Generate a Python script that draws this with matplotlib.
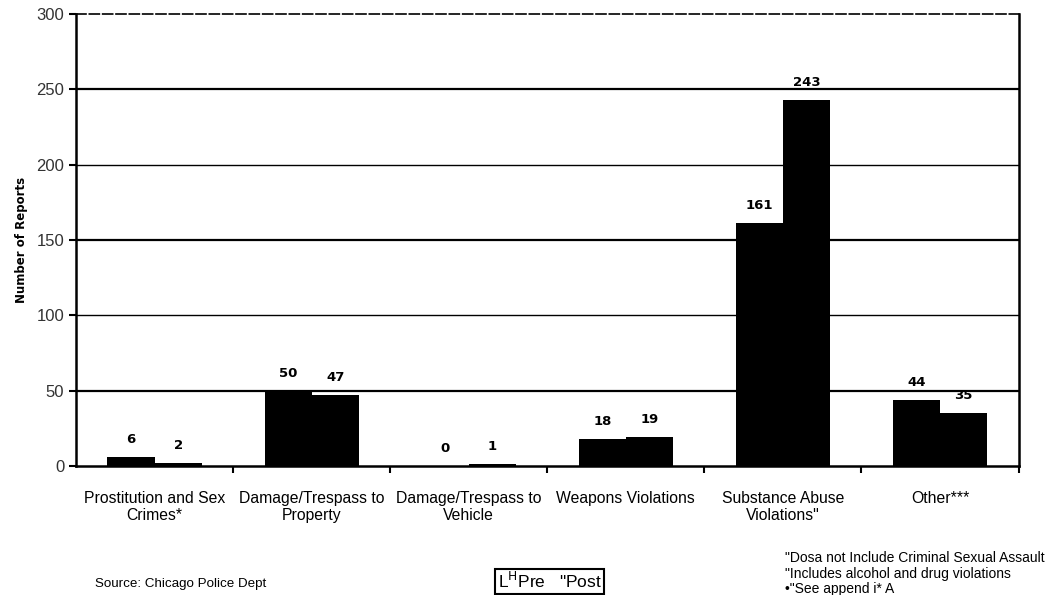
import numpy as np
import matplotlib.pyplot as plt

# data
categories = ["Prostitution and Sex\nCrimes*", "Damage/Trespass to\nProperty",
              "Damage/Trespass to\nVehicle", "Weapons Violations",
              "Substance Abuse\nViolations\"", "Other***"]
pre = [6, 50, 0, 18, 161, 44]
post = [2, 47, 1, 19, 243, 35]
pre_labels = ["6", "50", "0", "18", "161", "44"]
post_labels = ["2", "47", "1", "19", "243", "35"]

plt.rcParams["font.family"] = ["Liberation Sans", "DejaVu Sans"]

fig = plt.figure(figsize=(10.49, 5.95), dpi=100)
ax = fig.add_axes([0.0725, 0.2168, 0.8985, 0.7597])

x = np.arange(len(categories))
w = 0.30

# horizontal grid lines, as in the scan
for yv in [50, 100, 150, 200, 250]:
    ax.axhline(yv, color="black", lw=1.6 if yv not in (100, 200) else 1.0, zorder=1)

ax.bar(x - w / 2, pre, w, color="black", zorder=2)
ax.bar(x + w / 2, post, w, color="black", zorder=2)

for xi, v, t in zip(x - w / 2, pre, pre_labels):
    ax.annotate(t, (xi, v), xytext=(0, 8), textcoords="offset points",
                ha="center", va="bottom", fontsize=9.5, fontweight="bold",
                family="DejaVu Sans")
for xi, v, t in zip(x + w / 2, post, post_labels):
    ax.annotate(t, (xi, v), xytext=(0, 8), textcoords="offset points",
                ha="center", va="bottom", fontsize=9.5, fontweight="bold",
                family="DejaVu Sans")

ax.set_xlim(-0.5, len(categories) - 0.5)
ax.set_ylim(0, 300)
ax.set_yticks([0, 50, 100, 150, 200, 250, 300])
ax.tick_params(axis="y", labelsize=12, labelcolor="#333333", length=5, width=1.5)

# category names sit between the boundary ticks
ax.set_xticks(x + 0.5)
ax.set_xticklabels([])
ax.tick_params(axis="x", direction="out", length=5, width=1.5)
ax.set_xticks(x, minor=True)
ax.set_xticklabels(categories, minor=True, fontsize=11.3, linespacing=1.15)
ax.tick_params(axis="x", which="minor", length=0, pad=18)

for s in ["left", "right", "bottom"]:
    ax.spines[s].set_linewidth(1.8)
ax.spines["top"].set_linewidth(1.2)
ax.spines["top"].set_linestyle((0, (6, 2)))

ax.set_ylabel("Number of Reports", fontsize=8.5, fontweight="bold", labelpad=6,
              family="DejaVu Sans")

fig.text(0.091, 0.008, "Source: Chicago Police Dept", fontsize=9.6, va="bottom")
fig.text(0.4745, 0.006, r'L$^{\mathsf{H}}$Pre   "Post', fontsize=12.5, va="bottom",
         bbox=dict(boxstyle="square,pad=0.15", fc="white", ec="black", lw=1.5))
fig.text(0.748, 0.050, '"Dosa not Include Criminal Sexual Assault', fontsize=10, va="bottom")
fig.text(0.748, 0.024, '"Includes alcohol and drug violations', fontsize=10, va="bottom")
fig.text(0.748, -0.002, '\u2022"See append i* A', fontsize=10, va="bottom")

fig.savefig("out.png", dpi=100)
